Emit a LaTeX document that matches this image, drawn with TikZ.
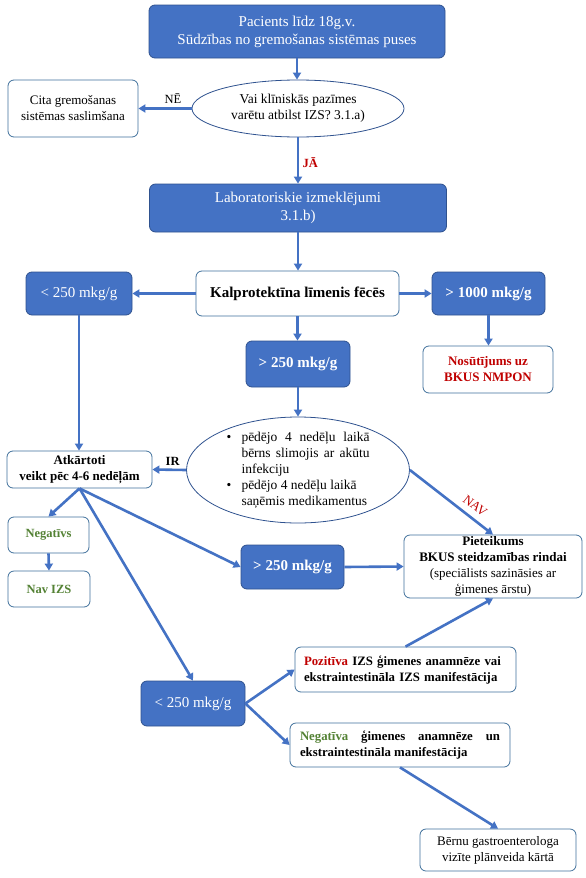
\documentclass[tikz,border=0pt]{standalone}
\usepackage{fontspec}
\setmainfont{Liberation Serif}
\usetikzlibrary{arrows.meta,shapes.geometric}
\definecolor{bfill}{HTML}{4472C4}
\definecolor{bdraw}{HTML}{2F528F}
\definecolor{wdraw}{HTML}{41719C}
\definecolor{arr}{HTML}{4472C4}
\definecolor{myred}{HTML}{C00000}
\definecolor{mygreen}{HTML}{548235}
\begin{document}
\begin{tikzpicture}[x=1pt,y=-1pt,
  bluebox/.style={draw=bdraw, fill=bfill, text=white, rounded corners=6pt, line width=0.8pt, align=center, inner sep=0pt},
  whitebox/.style={draw=wdraw, fill=white, rounded corners=6pt, line width=0.8pt, align=center, inner sep=0pt},
  ell/.style={ellipse, draw=bdraw, fill=white, line width=0.8pt, inner sep=0pt},
  arw/.style={draw=arr, line width=2.6pt, -{Triangle[length=7pt,width=8pt]}},
  sz/.style={font=\fontsize{#1}{16}\selectfont},
  szb/.style={font=\fontsize{#1}{16}\selectfont\bfseries}]
\useasboundingbox[fill=white] (0,0) rectangle (586,878);

% nodes
\node[bluebox, minimum width=296, minimum height=53, font=\fontsize{15}{18}\selectfont] (top) at (297,31.5) {Pacients līdz 18g.v.\\Sūdzības no gremošanas sistēmas puses};
\node[ell, minimum width=212, minimum height=57] (e1) at (298,108.5) {};
\node[sz=13.5, align=center] at (e1.center) {Vai klīniskās pazīmes\\varētu atbilst IZS? 3.1.a)};
\node[whitebox, minimum width=130, minimum height=57, sz=13] (cita) at (73,108.5) {Cita gremošanas\\sistēmas saslimšana};
\node[bluebox, minimum width=297, minimum height=48, font=\fontsize{15}{18}\selectfont] (lab) at (298,208) {Laboratoriskie izmeklējumi\\3.1.b)};
\node[whitebox, minimum width=203, minimum height=45, szb=15] (kalp) at (297.5,293.5) {Kalprotektīna līmenis fēcēs};
\node[bluebox, minimum width=106, minimum height=43, sz=15] (lt1) at (79,293.5) {< 250 mkg/g};
\node[bluebox, minimum width=113, minimum height=43, szb=15] (gt1000) at (488.5,293.5) {> 1000 mkg/g};
\node[bluebox, minimum width=104, minimum height=46, szb=15] (gt1) at (298,364) {> 250 mkg/g};
\node[whitebox, minimum width=130, minimum height=47, szb=13, text=myred] (nos) at (488,369.5) {Nosūtījums uz\\BKUS NMPON};
\node[ell, minimum width=223, minimum height=106] (e2) at (298,470) {};
\node[inner sep=0pt, font=\fontsize{13.5}{16}\selectfont] at (e2.center) {\begin{tabular}{@{}p{9pt}@{\hspace{6pt}}p{128pt}@{}}
\textbullet & pēdējo 4 nedēļu laikā\linebreak bērns slimojis ar akūtu\linebreak infekciju\\
\textbullet & pēdējo 4 nedēļu laikā\newline saņēmis medikamentus
\end{tabular}};
\node[whitebox, minimum width=145, minimum height=37, szb=13] (atk) at (79.5,469.5) {Atkārtoti\\veikt pēc 4-6 nedēļām};
\node[whitebox, minimum width=81, minimum height=36, szb=12.5, text=mygreen] (neg) at (48.5,535) {Negatīvs};
\node[whitebox, minimum width=82, minimum height=36, szb=12.5, text=mygreen] (nav) at (49,589) {Nav IZS};
\node[bluebox, minimum width=103, minimum height=44, szb=15] (gt2) at (292.5,567) {> 250 mkg/g};
\node[whitebox, minimum width=178, minimum height=63, sz=13] (piet) at (493,566.5) {\textbf{Pieteikums}\\\textbf{BKUS steidzamības rindai}\\(speciālists sazināsies ar\\ģimenes ārstu)};
\node[bluebox, minimum width=104, minimum height=45, sz=15] (lt2) at (193,703.5) {< 250 mkg/g};
\node[whitebox, minimum width=221, minimum height=45] (poz) at (405.5,669.5) {};
\node[szb=12.8, text width=203pt, align=left, inner sep=0pt] at (poz.center) {\textcolor{myred}{Pozitīva} IZS ģimenes anamnēze vai\\ekstraintestināla IZS manifestācija};
\node[whitebox, minimum width=220, minimum height=44] (negva) at (400,745) {};
\node[szb=12.8, text width=200pt, align=justify, inner sep=0pt] at (negva.center) {\textcolor{mygreen}{Negatīva} ģimenes anamnēze un\linebreak ekstraintestināla manifestācija};
\node[whitebox, minimum width=156, minimum height=42, sz=13] (bernu) at (498,850) {Bērnu gastroenterologa\\vizīte plānveida kārtā};

% connectors
\draw[arw] (top.south) -- (top.south |- e1.north);
\draw[arw] (e1.west) -- (cita.east) node[pos=0.35, above, sz=12.5, text=black] {NĒ};
\draw[arw] (e1.south) -- (e1.south |- lab.north) node[pos=0.55, right, szb=12.5, text=myred] {JĀ};
\draw[arw] (lab.south) -- (lab.south |- kalp.north);
\draw[arw] (kalp.west) -- (lt1.east);
\draw[arw] (kalp.east) -- (gt1000.west);
\draw[arw] (kalp.south) -- (kalp.south |- gt1.north);
\draw[arw] (gt1000.south) -- (gt1000.south |- nos.north);
\draw[arw] (gt1.south) -- (gt1.south |- e2.north);
\draw[arw] (lt1.south) -- (lt1.south |- atk.north);
\draw[arw] (e2.west) -- (atk.east) node[pos=0.4, above, szb=12.5, text=black] {IR};
\draw[arw] (e2.east) -- (piet.north) node[pos=0.7, sloped, above=5pt, sz=13, text=myred, inner sep=1pt] {NAV};
\draw[arw] (atk.south) -- (neg.north);
\draw[arw] (atk.south) -- (gt2.west);
\draw[arw] (atk.south) -- (lt2.north);
\draw[arw] (neg.south) -- (nav.north);
\draw[arw] (gt2.east) -- (piet.west);
\draw[arw] (lt2.east) -- (poz.west);
\draw[arw] (lt2.east) -- (negva.west);
\draw[arw] (poz.north) -- (piet.south);
\draw[arw] (negva.south) -- (bernu.north);
\end{tikzpicture}
\end{document}
